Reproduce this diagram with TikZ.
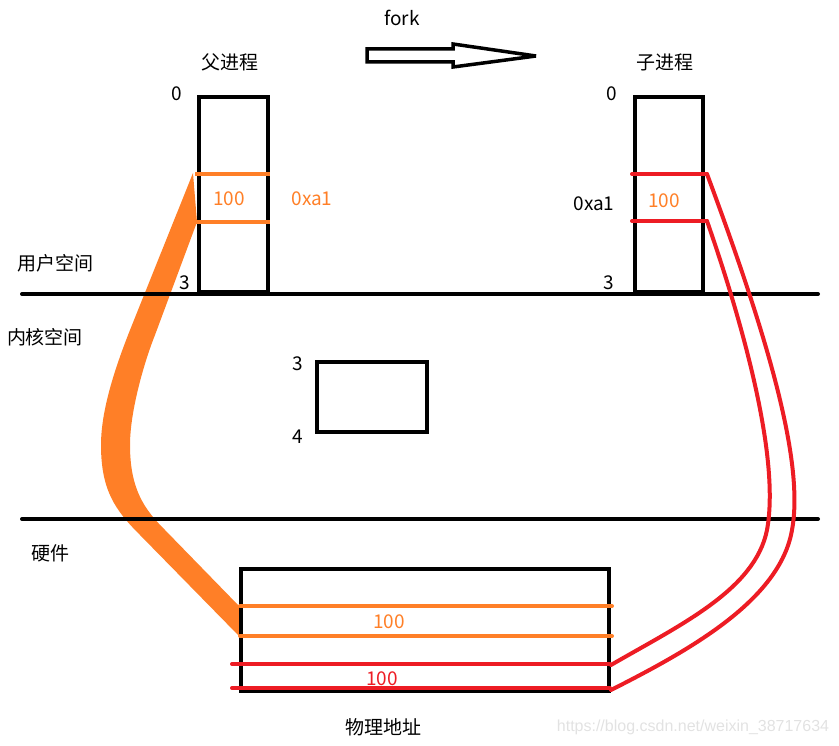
\documentclass[tikz,border=0pt]{standalone}
\usepackage{fontspec}
\setmainfont{Noto Sans CJK SC}
\definecolor{porange}{HTML}{FF7F27}
\definecolor{pred}{HTML}{ED1C24}
\definecolor{wm}{HTML}{E2E2E2}
\begin{document}
\begin{tikzpicture}[x=1pt,y=-1pt,
  lbl/.style={inner sep=0pt,font=\fontsize{19}{22}\selectfont},
  blk/.style={line width=4pt,black},
  boxn/.style={draw,blk,inner sep=0pt,outer sep=0pt,anchor=north west},
  oline/.style={line width=4pt,porange},
  rline/.style={line width=4pt,pred,line cap=round}]
\useasboundingbox (0,0) rectangle (839,746);
% orange band (under black lines)
\fill[porange] (193,173) -- (130,330) .. controls (115,368) and (101,410) .. (101,445)
  .. controls (101,490) and (115,510) .. (140,535) -- (239,636) -- (239,606)
  -- (165,530) .. controls (145,510) and (130,490) .. (130,445)
  .. controls (130,410) and (145,360) .. (155,335) -- (197,222) -- cycle;
% horizontal separators
\coordinate (h1l) at (22,294); \coordinate (h1r) at (818,294);
\coordinate (h2l) at (22,519); \coordinate (h2r) at (818,519);
\draw[blk,line cap=round] (h1l) -- (h1r);
\draw[blk,line cap=round] (h2l) -- (h2r);
% boxes
\node[boxn,minimum width=69pt,minimum height=195pt] (pbox) at (199,97) {};
\node[boxn,minimum width=68pt,minimum height=195pt] (cbox) at (635,97) {};
\node[boxn,minimum width=110pt,minimum height=70pt] (kbox) at (317,362) {};
\node[boxn,minimum width=368pt,minimum height=122pt] (mbox) at (241,569) {};
% parent orange lines
\draw[oline] (195,174) -- (270,174);
\draw[oline] (195,222) -- (270,222);
% child red lines
\draw[rline] (632,174) -- (707,174);
\draw[rline] (632,221) -- (707,221);
% memory lines
\draw[oline,line cap=round] (240,606) -- (612,606);
\draw[oline,line cap=round] (240,636) -- (612,636);
\draw[rline] (232,664) -- (610,664);
\draw[rline] (232,688) -- (610,688);
% red mapping curves
\draw[rline] (707,174) .. controls (765,330) and (805,460) .. (792,530)
  .. controls (780,600) and (690,650) .. (611,690);
\draw[rline] (707,221) .. controls (745,330) and (780,460) .. (767,530)
  .. controls (755,590) and (680,625) .. (611,665);
% fork arrow
\draw[line width=3.5pt,line join=miter,miter limit=3] (367,49) -- (453,49) -- (453,44) -- (536,56) -- (453,67) -- (453,62) -- (367,62) -- cycle;
\node[lbl] (fork) at (402,18) {fork};
% labels
\node[lbl] (ptitle) at (230,62) {父进程};
\node[lbl] (ctitle) at (665,62) {子进程};
\node[lbl] (p0) at (177,94) {0};
\node[lbl] (p3) at (185,283) {3};
\node[lbl] (c0) at (612,94) {0};
\node[lbl] (c3) at (609,283) {3};
\node[lbl,porange] (p100) at (229,199) {100};
\node[lbl,porange] (paddr) at (312,199) {0xa1};
\node[lbl,porange] (c100) at (664,201) {100};
\node[lbl] (caddr) at (594,204) {0xa1};
\node[lbl] (user) at (55,263) {用户空间};
\node[lbl] (kern) at (45,337) {内核空间};
\node[lbl] (hw) at (50,553) {硬件};
\node[lbl] (k3) at (298,364) {3};
\node[lbl] (k4) at (298,437) {4};
\node[lbl,porange] (m100a) at (389,622) {100};
\node[lbl,pred] (m100b) at (382,679) {100};
\node[lbl] (phys) at (383,727) {物理地址};
\node[inner sep=0pt,wm,font=\fontsize{16}{18}\selectfont\fontspec{Liberation Sans}] (wmark) at (693,727) {https://blog.csdn.net/weixin\_38717634};
\end{tikzpicture}
\end{document}
